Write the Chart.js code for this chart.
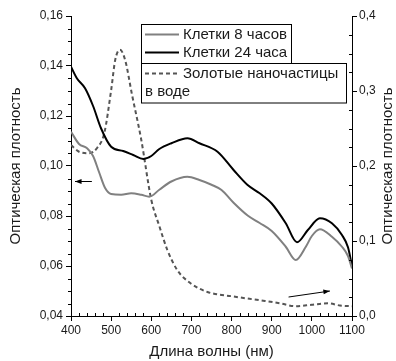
<!DOCTYPE html>
<html>
<head>
<meta charset="utf-8">
<script src="https://cdn.jsdelivr.net/npm/chart.js@4/dist/chart.umd.min.js"></script>
<style>
  html, body { margin: 0; padding: 0; background: #fff; }
</style>
</head>
<body>
<canvas id="myChart" width="396" height="361"></canvas>
<script>
// cells, 8 hours (left axis)
const wl8 = [400, 420, 440, 455, 470, 485, 500, 525, 550, 575, 595, 620, 650, 690, 720, 750, 775, 805, 840, 870, 900, 935, 960, 985, 1000, 1020, 1050, 1075, 1090, 1100];
const od8 = [0.1137, 0.1088, 0.1071, 0.1040, 0.0975, 0.0912, 0.0888, 0.0885, 0.0891, 0.0885, 0.0877, 0.0905, 0.0938, 0.0957, 0.0944, 0.0925, 0.0904, 0.0853, 0.0802, 0.0772, 0.0740, 0.0677, 0.0624, 0.0677, 0.0720, 0.0747, 0.0717, 0.0677, 0.0640, 0.0590];

// cells, 24 hours (left axis)
const wl24 = [400, 415, 435, 455, 475, 500, 530, 555, 580, 600, 620, 650, 690, 720, 765, 805, 840, 870, 900, 935, 963, 990, 1020, 1050, 1075, 1090, 1100];
const od24 = [0.1397, 0.1350, 0.1311, 0.1240, 0.1150, 0.1077, 0.1060, 0.1044, 0.1028, 0.1040, 0.1068, 0.1091, 0.1111, 0.1091, 0.1057, 0.0984, 0.0924, 0.0891, 0.0850, 0.0771, 0.0695, 0.0744, 0.0791, 0.0771, 0.0724, 0.0675, 0.0600];

// gold nanoparticles in water (right axis)
const wlAu = [400, 420, 445, 465, 483, 500, 510, 522, 535, 552, 575, 600, 620, 640, 665, 697, 740, 805, 870, 920, 960, 1000, 1040, 1070, 1100];
const odAu = [0.228, 0.219, 0.217, 0.224, 0.244, 0.301, 0.341, 0.355, 0.341, 0.295, 0.235, 0.155, 0.120, 0.088, 0.061, 0.044, 0.032, 0.026, 0.021, 0.017, 0.013, 0.015, 0.017, 0.014, 0.013];

const seriesNames = ["Клетки 8 часов", "Клетки 24 часа", "Золотые наночастицы в воде"];
const xTitle = "Длина волны (нм)";
const yTitle = "Оптическая плотность";

function toPoints(xs, ys) {
    return xs.map((x, i) => ({ x: x, y: ys[i] }));
}

const FONT = 'Arial, "Liberation Sans", sans-serif';
Chart.defaults.font.family = FONT;
Chart.defaults.color = "#1a1a1a";

function px(v) { return Math.round(v) + 0.5; }

// minor ticks, arrows, right title, legend boxes
const extras = {
    id: "extras",
    afterDraw(chart) {
        const ctx = chart.ctx;
        const xs = chart.scales.x, yl = chart.scales.y, yr = chart.scales.y2;
        const area = chart.chartArea;
        ctx.save();
        ctx.strokeStyle = "#000";
        ctx.lineWidth = 1;

        // minor ticks
        ctx.beginPath();
        for (let w = 400; w <= 1100; w += 20) {
            if (w % 100 === 0) continue;
            const p = px(xs.getPixelForValue(w));
            ctx.moveTo(p, area.bottom);
            ctx.lineTo(p, area.bottom - 3);
        }
        for (let i = 8; i <= 32; i++) {
            if (i % 4 === 0) continue;
            const p = px(yl.getPixelForValue(i * 0.005));
            ctx.moveTo(area.left, p);
            ctx.lineTo(area.left - 3, p);
        }
        for (let i = 0; i <= 16; i++) {
            if (i % 4 === 0) continue;
            const p = px(yr.getPixelForValue(i * 0.025));
            ctx.moveTo(area.right, p);
            ctx.lineTo(area.right - 3, p);
        }
        ctx.stroke();

        // arrows
        function arrow(x1, y1, x2, y2) {
            const a = Math.atan2(y2 - y1, x2 - x1);
            ctx.beginPath();
            ctx.moveTo(x1, y1);
            ctx.lineTo(x2, y2);
            ctx.stroke();
            ctx.beginPath();
            ctx.moveTo(x2, y2);
            ctx.lineTo(x2 - 7 * Math.cos(a - 0.35), y2 - 7 * Math.sin(a - 0.35));
            ctx.lineTo(x2 - 7 * Math.cos(a + 0.35), y2 - 7 * Math.sin(a + 0.35));
            ctx.closePath();
            ctx.fillStyle = "#000";
            ctx.fill();
        }
        arrow(xs.getPixelForValue(452), yl.getPixelForValue(0.0938),
              xs.getPixelForValue(410), yl.getPixelForValue(0.0938));
        arrow(xs.getPixelForValue(942), yr.getPixelForValue(0.0253),
              xs.getPixelForValue(1045), yr.getPixelForValue(0.0333));

        // right axis title, reading bottom to top
        ctx.fillStyle = "#1a1a1a";
        ctx.font = "15px " + FONT;
        ctx.textAlign = "center";
        ctx.textBaseline = "middle";
        ctx.save();
        ctx.translate(388, (area.top + area.bottom) / 2);
        ctx.rotate(-Math.PI / 2);
        ctx.fillText(yTitle, 0, 0);
        ctx.restore();

        // legend
        const ds = chart.data.datasets;
        ctx.fillStyle = "#fff";
        ctx.fillRect(141.5, 24.5, 150, 39);
        ctx.fillRect(141.5, 63.5, 205, 39.5);
        ctx.strokeRect(141.5, 24.5, 150, 39);
        ctx.strokeRect(141.5, 63.5, 205, 39.5);
        const rows = [34.5, 52.5, 73.5];
        ds.forEach((d, i) => {
            ctx.beginPath();
            ctx.strokeStyle = d.borderColor;
            ctx.lineWidth = d.borderWidth;
            ctx.setLineDash(d.borderDash || []);
            ctx.moveTo(145, rows[i]);
            ctx.lineTo(179, rows[i]);
            ctx.stroke();
            ctx.setLineDash([]);
        });
        ctx.fillStyle = "#1a1a1a";
        ctx.font = "15px " + FONT;
        ctx.textAlign = "left";
        ctx.fillText(ds[0].label, 183, 35);
        ctx.fillText(ds[1].label, 183, 53);
        // wrap the long label inside its box
        const words = ds[2].label.split(" ");
        let first = words[0], k = 1;
        while (k < words.length && ctx.measureText(first + " " + words[k]).width < 162) {
            first += " " + words[k];
            k++;
        }
        ctx.fillText(first, 183, 74);
        ctx.fillText(words.slice(k).join(" "), 145, 92);
        ctx.restore();
    }
};

const canvas = document.getElementById("myChart");
new Chart(canvas.getContext("2d"), {
    type: "line",
    data: {
        datasets: [
            {
                label: seriesNames[0],
                data: toPoints(wl8, od8),
                yAxisID: "y",
                borderColor: "#808080",
                borderWidth: 2
            },
            {
                label: seriesNames[1],
                data: toPoints(wl24, od24),
                yAxisID: "y",
                borderColor: "#000000",
                borderWidth: 2
            },
            {
                label: seriesNames[2],
                data: toPoints(wlAu, odAu),
                yAxisID: "y2",
                borderColor: "#555555",
                borderWidth: 2,
                borderDash: [4, 3]
            }
        ]
    },
    options: {
        responsive: false,
        animation: false,
        layout: { padding: { top: 16, left: 0, right: 0, bottom: 0 } },
        elements: {
            point: { radius: 0 },
            line: { cubicInterpolationMode: "monotone", fill: false }
        },
        plugins: {
            legend: { display: false },
            tooltip: { enabled: false }
        },
        scales: {
            x: {
                type: "linear",
                min: 400,
                max: 1100,
                afterFit(scale) { scale.height = 45; },
                ticks: {
                    stepSize: 100,
                    font: { size: 12 },
                    padding: 2,
                    maxRotation: 0,
                    callback: v => String(v)
                },
                grid: { drawOnChartArea: false, color: "#000", tickLength: 5 },
                border: { color: "#000" },
                title: { display: true, text: xTitle, font: { size: 15 }, padding: { top: 0, bottom: 0 } }
            },
            y: {
                position: "left",
                min: 0.04,
                max: 0.16,
                afterFit(scale) { scale.width = 71; },
                ticks: {
                    stepSize: 0.02,
                    font: { size: 12 },
                    padding: 3,
                    callback: v => v.toFixed(2).replace(".", ",")
                },
                grid: { drawOnChartArea: false, color: "#000", tickLength: 5 },
                border: { color: "#000" },
                title: { display: true, text: yTitle, font: { size: 15 }, padding: { top: 7, bottom: 0 } }
            },
            y2: {
                position: "right",
                min: 0,
                max: 0.4,
                afterFit(scale) { scale.width = 44; },
                ticks: {
                    stepSize: 0.1,
                    font: { size: 12 },
                    padding: 2,
                    callback: v => v.toFixed(1).replace(".", ",")
                },
                grid: { drawOnChartArea: false, color: "#000", tickLength: 5 },
                border: { color: "#000" }
            }
        }
    },
    plugins: [extras]
});
</script>
</body>
</html>
